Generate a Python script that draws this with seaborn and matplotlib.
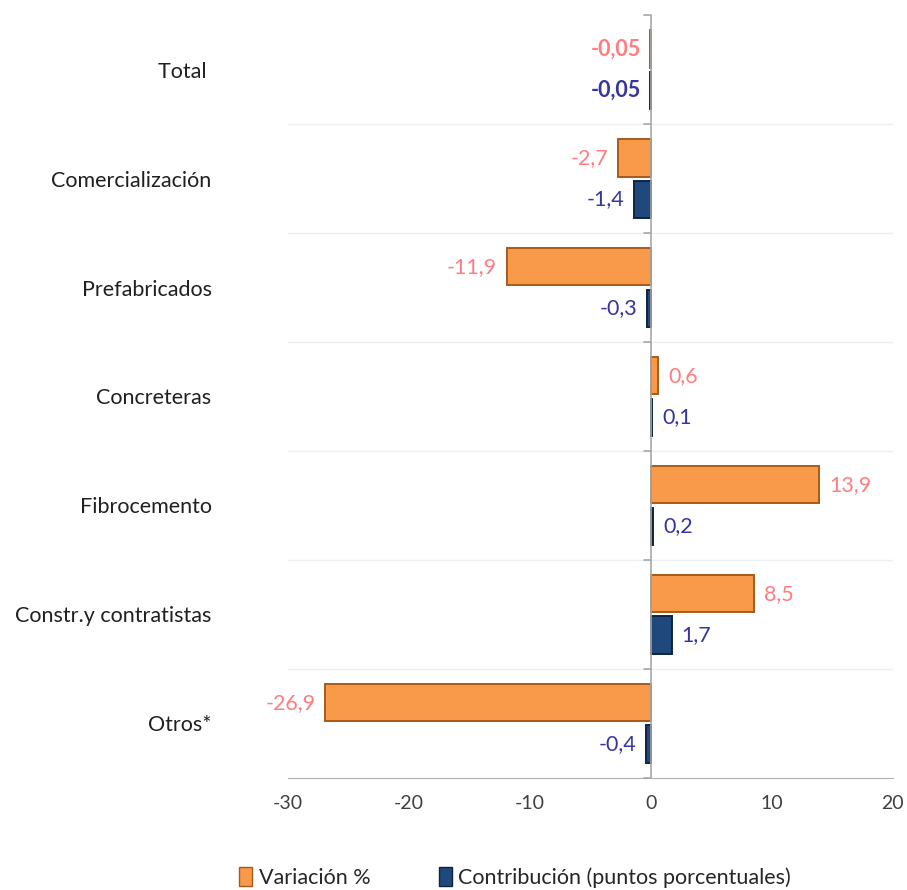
import pandas as pd
import seaborn as sns
import matplotlib.pyplot as plt
from matplotlib.patches import Patch

# data
categorias = ["Total ", "Comercialización", "Prefabricados", "Concreteras",
              "Fibrocemento", "Constr.y contratistas", "Otros*"]
variacion = [-0.05, -2.7, -11.9, 0.6, 13.9, 8.5, -26.9]
contribucion = [-0.05, -1.4, -0.3, 0.1, 0.2, 1.7, -0.4]
series = ["Variación %", "Contribución (puntos porcentuales)"]
xticks = [-30, -20, -10, 0, 10, 20]

df = pd.DataFrame({
    "categoria": categorias * 2,
    "valor": variacion + contribucion,
    "serie": [series[0]] * len(categorias) + [series[1]] * len(categorias),
})

sns.set_style("white")
plt.rcParams["font.family"] = ["Lato", "DejaVu Sans"]

naranja = "#F99A4B"
azul = "#1F497D"
col_lab = {series[0]: "#FF7C80", series[1]: "#3535A0"}

fig = plt.figure(figsize=(9.07, 8.90), dpi=100)
ax = fig.add_axes([0.3175, 0.126, 0.667, 0.857])

sns.barplot(data=df, y="categoria", x="valor", hue="serie", orient="h",
            palette=[naranja, azul], saturation=1, width=0.76, gap=0.1,
            legend=False, ax=ax)

edges = ["#A85A1A", "#0F243E"]
for cont, edge, s in zip(ax.containers, edges, series):
    for p in cont:
        p.set_edgecolor(edge)
        p.set_linewidth(1.4)
    vals = df.loc[df["serie"] == s, "valor"].tolist()
    labs = [f"{v:.2f}".replace(".", ",") if abs(v) < 0.1 else f"{v:.1f}".replace(".", ",")
            for v in vals]
    texts = ax.bar_label(cont, labels=labs, padding=7, fontsize=15.5, color=col_lab[s])
    # total labels are bold
    texts[0].set_fontweight("bold")

ax.set_xlim(-30, 20)
ax.set_ylim(len(categorias) - 0.5, -0.5)
ax.set_xticks(xticks)
ax.set_xticklabels([str(t) for t in xticks], fontsize=14, color="#404040")
ax.set_xlabel("")
ax.set_ylabel("")

for sp in ["top", "right", "left"]:
    ax.spines[sp].set_visible(False)
ax.spines["bottom"].set_color("#B0B0B0")
ax.tick_params(axis="x", which="major", direction="out", length=6, color="#B0B0B0", pad=6)
ax.tick_params(axis="y", length=0, pad=55, labelsize=15.5, labelcolor="#202020")

# light separators between categories and zero axis with its ticks
for b in range(1, len(categorias)):
    ax.axhline(b - 0.5, color="#EFEFEF", lw=1, zorder=0)
ax.axvline(0, color="#A8A8A8", lw=1.2, zorder=3)
for b in range(0, len(categorias) + 1):
    ax.plot([-0.6, 0], [b - 0.5, b - 0.5], color="#A8A8A8", lw=1.2, zorder=3,
            clip_on=False)

handles = [Patch(facecolor=naranja, edgecolor="#A85A1A"),
           Patch(facecolor=azul, edgecolor="#0F243E")]
fig.legend(handles, series, loc="center", bbox_to_anchor=(0.568, 0.014), ncol=2,
           frameon=False, fontsize=15.5, handlelength=0.6, handleheight=1.0,
           handletextpad=0.3, columnspacing=3.2)

fig.savefig("out.png", dpi=100)
